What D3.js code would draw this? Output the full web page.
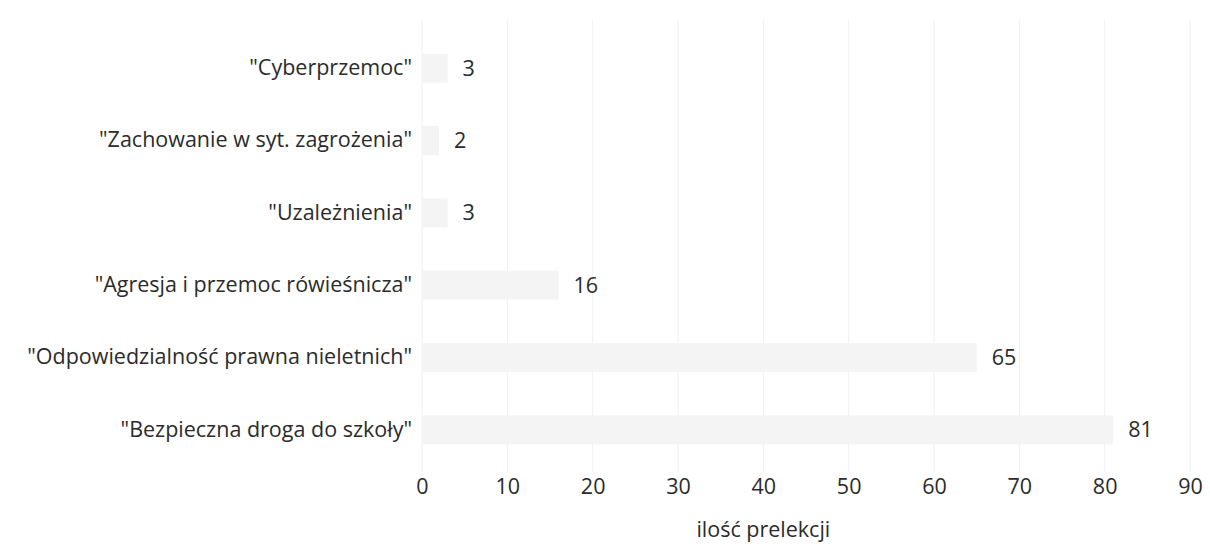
<!DOCTYPE html>
<html><head><meta charset="utf-8">
<script src="https://cdn.jsdelivr.net/npm/d3@7"></script>
<style>body{margin:0;background:#fff}svg{display:block}text{font-family:"Open Sans","Noto Sans",sans-serif;fill:#2b2b2b}</style>
</head><body><svg id="c" width="1210" height="549"></svg>
<script>
const categories = ['"Cyberprzemoc"','"Zachowanie w syt. zagrożenia"','"Uzależnienia"','"Agresja i przemoc rówieśnicza"','"Odpowiedzialność prawna nieletnich"','"Bezpieczna droga do szkoły"'];
const values = [3,2,3,16,65,81];
const xTicks = [0,10,20,30,40,50,60,70,80,90];
const xTitle = "ilość prelekcji";

const FS = 21.5;
const svg = d3.select("#c");
const m = {l:422, r:1190, t:32, b:466};
const x = d3.scaleLinear().domain([0,90]).range([m.l,m.r]);
const y = d3.scaleBand().domain(categories).range([m.t,m.b]).paddingInner(0.6).paddingOuter(0.3);

// gridlines
svg.append("g").selectAll("line").data(xTicks).join("line")
  .attr("x1",d=>x(d)).attr("x2",d=>x(d)).attr("y1",m.t-12).attr("y2",m.b+6)
  .attr("stroke","#f0f0f0").attr("stroke-width",1);

// bars
svg.append("g").selectAll("rect").data(values).join("rect")
  .attr("x",x(0)).attr("y",(d,i)=>y(categories[i]))
  .attr("width",d=>x(d)-x(0)).attr("height",y.bandwidth())
  .attr("fill","#f4f4f4");

// value labels
svg.append("g").selectAll("text").data(values).join("text")
  .attr("x",d=>x(d)+15).attr("y",(d,i)=>y(categories[i])+y.bandwidth()/2)
  .attr("dy","0.35em").attr("font-size",FS).text(d=>d);

// category axis
const ya = svg.append("g").attr("transform",`translate(${m.l},0)`).call(d3.axisLeft(y).tickSize(0).tickPadding(10));
ya.select(".domain").remove();
ya.selectAll("text").attr("font-size",FS).style("font-family",'"Open Sans","Noto Sans",sans-serif').attr("fill","#2b2b2b");

// x axis
const xa = svg.append("g").attr("transform",`translate(0,${m.b})`).call(d3.axisBottom(x).tickValues(xTicks).tickSize(0).tickPadding(13));
xa.select(".domain").remove();
xa.selectAll("text").attr("font-size",FS).style("font-family",'"Open Sans","Noto Sans",sans-serif').attr("fill","#2b2b2b");

svg.append("text").attr("x",x(40)).attr("y",537).attr("text-anchor","middle").attr("font-size",FS).text(xTitle);
</script></body></html>
